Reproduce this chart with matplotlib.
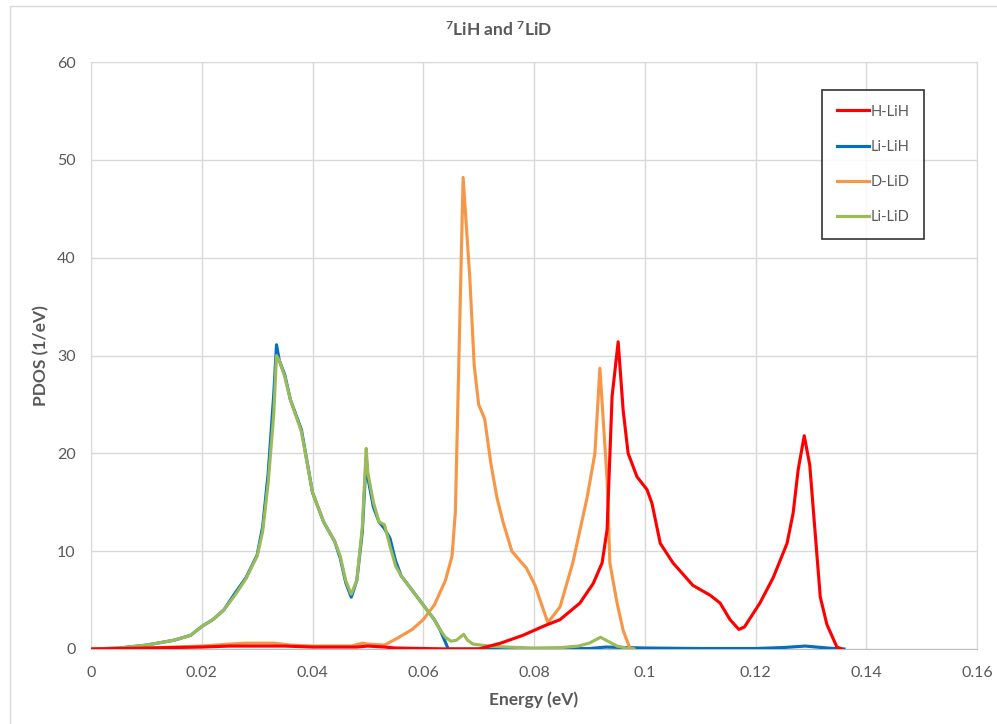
import matplotlib.pyplot as plt
from matplotlib.patches import Rectangle

plt.rcParams['font.family'] = ['Lato', 'DejaVu Sans']
plt.rcParams['mathtext.default'] = 'regular'

# H in LiH
h_lih_e = [0, 0.01, 0.02, 0.025, 0.03, 0.035, 0.04, 0.048, 0.05, 0.053, 0.055, 0.06, 0.065, 0.07,
           0.072, 0.074, 0.076, 0.078, 0.080, 0.082, 0.0847, 0.0883, 0.0907, 0.0923, 0.0932, 0.0941,
           0.0952, 0.0961, 0.097, 0.0986, 0.1004, 0.1013, 0.1028, 0.1051, 0.1087, 0.1118, 0.1136,
           0.1154, 0.117, 0.118, 0.1208, 0.1232, 0.1257, 0.1268, 0.1277, 0.1288, 0.1298, 0.1317,
           0.1329, 0.1347, 0.1356]
h_lih = [0, 0.1, 0.2, 0.3, 0.3, 0.3, 0.2, 0.2, 0.3, 0.2, 0.1, 0.05, 0, 0,
         0.3, 0.6, 1.0, 1.4, 1.9, 2.4, 3.0, 4.7, 6.7, 8.8, 12.2, 25.8,
         31.4, 24.4, 20.0, 17.6, 16.3, 14.9, 10.8, 8.8, 6.5, 5.5, 4.7,
         3.0, 2.0, 2.25, 4.7, 7.3, 10.8, 13.9, 18.3, 21.8, 18.8, 5.3,
         2.5, 0.2, 0]

# Li in LiH
li_lih_e = [0, 0.005, 0.01, 0.015, 0.018, 0.02, 0.022, 0.024, 0.026, 0.028, 0.030, 0.031, 0.032,
            0.033, 0.0335, 0.034, 0.035, 0.036, 0.038, 0.040, 0.042, 0.044, 0.045, 0.046, 0.047,
            0.048, 0.049, 0.0497, 0.050, 0.051, 0.052, 0.053, 0.054, 0.055, 0.056, 0.058, 0.060,
            0.062, 0.063, 0.064, 0.0645, 0.07, 0.08, 0.09, 0.093, 0.1, 0.11, 0.12, 0.125, 0.129,
            0.133, 0.136]
li_lih = [0, 0.1, 0.4, 0.9, 1.4, 2.3, 3.0, 4.0, 5.7, 7.3, 9.6, 12.5, 18.0,
          26.0, 31.1, 29.5, 28.0, 25.5, 22.4, 16.0, 13.0, 11.0, 9.3, 6.8, 5.3,
          7.0, 12.0, 19.5, 17.5, 14.5, 13.0, 12.3, 11.3, 9.0, 7.5, 6.0, 4.5,
          3.0, 2.0, 0.7, 0, 0, 0, 0.05, 0.2, 0.1, 0.05, 0.05, 0.15, 0.3,
          0.1, 0]

# D in LiD
d_lid_e = [0, 0.01, 0.02, 0.025, 0.028, 0.033, 0.036, 0.04, 0.047, 0.049, 0.05, 0.053, 0.055,
           0.058, 0.060, 0.062, 0.064, 0.0652, 0.0658, 0.0672, 0.0684, 0.0692, 0.070, 0.0711,
           0.0722, 0.0733, 0.0744, 0.076, 0.0775, 0.0786, 0.0802, 0.0814, 0.0825, 0.0836, 0.0847,
           0.087, 0.0896, 0.091, 0.0919, 0.0932, 0.0937, 0.095, 0.0961, 0.0973, 0.098]
d_lid = [0, 0.1, 0.3, 0.5, 0.6, 0.6, 0.4, 0.3, 0.3, 0.6, 0.5, 0.4, 1.0,
         2.0, 3.0, 4.5, 7.0, 9.5, 14.0, 48.2, 38.0, 29.0, 25.0, 23.5,
         19.0, 15.5, 13.0, 10.0, 9.0, 8.3, 6.5, 4.5, 2.7, 3.5, 4.3,
         8.8, 15.5, 20.0, 28.7, 17.3, 8.8, 4.7, 1.9, 0.1, 0]

# Li in LiD
li_lid_e = [0, 0.005, 0.01, 0.015, 0.018, 0.02, 0.022, 0.024, 0.026, 0.028, 0.030, 0.031, 0.032,
            0.033, 0.0335, 0.034, 0.035, 0.036, 0.038, 0.040, 0.042, 0.044, 0.045, 0.046, 0.047,
            0.048, 0.049, 0.0497, 0.050, 0.051, 0.052, 0.053, 0.054, 0.055, 0.056, 0.058, 0.060,
            0.062, 0.063, 0.064, 0.065, 0.066, 0.0673, 0.068, 0.069, 0.072, 0.075, 0.08, 0.085,
            0.088, 0.09, 0.092, 0.093, 0.095, 0.097, 0.098]
li_lid = [0, 0.1, 0.4, 0.9, 1.4, 2.3, 3.0, 4.0, 5.5, 7.2, 9.5, 12.0, 17.0,
          24.0, 30.0, 29.5, 27.8, 25.5, 22.2, 16.0, 13.0, 11.0, 9.5, 7.0, 5.6,
          7.0, 12.5, 20.5, 18.0, 15.0, 13.0, 12.7, 10.5, 8.5, 7.5, 6.0, 4.5,
          3.0, 2.0, 1.2, 0.8, 0.9, 1.5, 0.9, 0.5, 0.3, 0.2, 0.1, 0.15,
          0.3, 0.6, 1.2, 0.9, 0.3, 0.05, 0]

text_c = '#595959'
grid_c = '#d9d9d9'

fig = plt.figure(figsize=(9.97, 7.24), dpi=100)
ax = fig.add_axes([91 / 997, 1 - 649 / 724, (977 - 91) / 997, (649 - 62) / 724])

ax.plot(h_lih_e, h_lih, color='#ff0000', lw=2.25, label='H-LiH', zorder=5)
ax.plot(li_lih_e, li_lih, color='#0070c0', lw=2.25, label='Li-LiH', zorder=3)
ax.plot(d_lid_e, d_lid, color='#f79646', lw=2.25, label='D-LiD', zorder=4)
ax.plot(li_lid_e, li_lid, color='#9bbb59', lw=2.25, label='Li-LiD', zorder=4)

ax.set_xlim(0, 0.16)
ax.set_ylim(0, 60)
ax.set_xticks([0, 0.02, 0.04, 0.06, 0.08, 0.1, 0.12, 0.14, 0.16])
ax.set_xticklabels(['0', '0.02', '0.04', '0.06', '0.08', '0.1', '0.12', '0.14', '0.16'])
ax.set_yticks(range(0, 61, 10))
ax.grid(True, color=grid_c, lw=1)
ax.set_axisbelow(True)
for s in ax.spines.values():
    s.set_color(grid_c)
ax.spines['bottom'].set_color('#bfbfbf')
ax.tick_params(length=0, colors=text_c, labelsize=11.5)
ax.tick_params(axis='x', pad=12)
ax.tick_params(axis='y', pad=11)

ax.set_xlabel('Energy (eV)', fontsize=12.5, fontweight='bold', color=text_c, va='center')
ax.xaxis.set_label_coords(0.5, (649 - 700) / 587)
ax.set_ylabel('PDOS (1/eV)', fontsize=12.5, fontweight='bold', color=text_c, va='center')
ax.yaxis.set_label_coords((41 - 91) / 886, 0.5)
fig.text(0.5, 1 - 30 / 724, '$^{7}$LiH and $^{7}$LiD', ha='center', va='center',
         fontsize=12.5, fontweight='bold', color=text_c)

leg = ax.legend(loc='upper left', bbox_to_anchor=((822 - 91) / 886, (649 - 90) / 587),
                frameon=True, fancybox=False, fontsize=10.5, labelspacing=1.45,
                handlelength=2.2, handletextpad=0.1, borderpad=1.0, borderaxespad=0)
leg.get_frame().set_edgecolor('black')
leg.get_frame().set_linewidth(1.2)
for t in leg.get_texts():
    t.set_color(text_c)

fig.patches.append(Rectangle((10 / 997, -0.01), 1.0, 1 - 6 / 724 + 0.01, transform=fig.transFigure,
                             fill=False, edgecolor=grid_c, lw=1))

fig.savefig('out.png', dpi=100)
